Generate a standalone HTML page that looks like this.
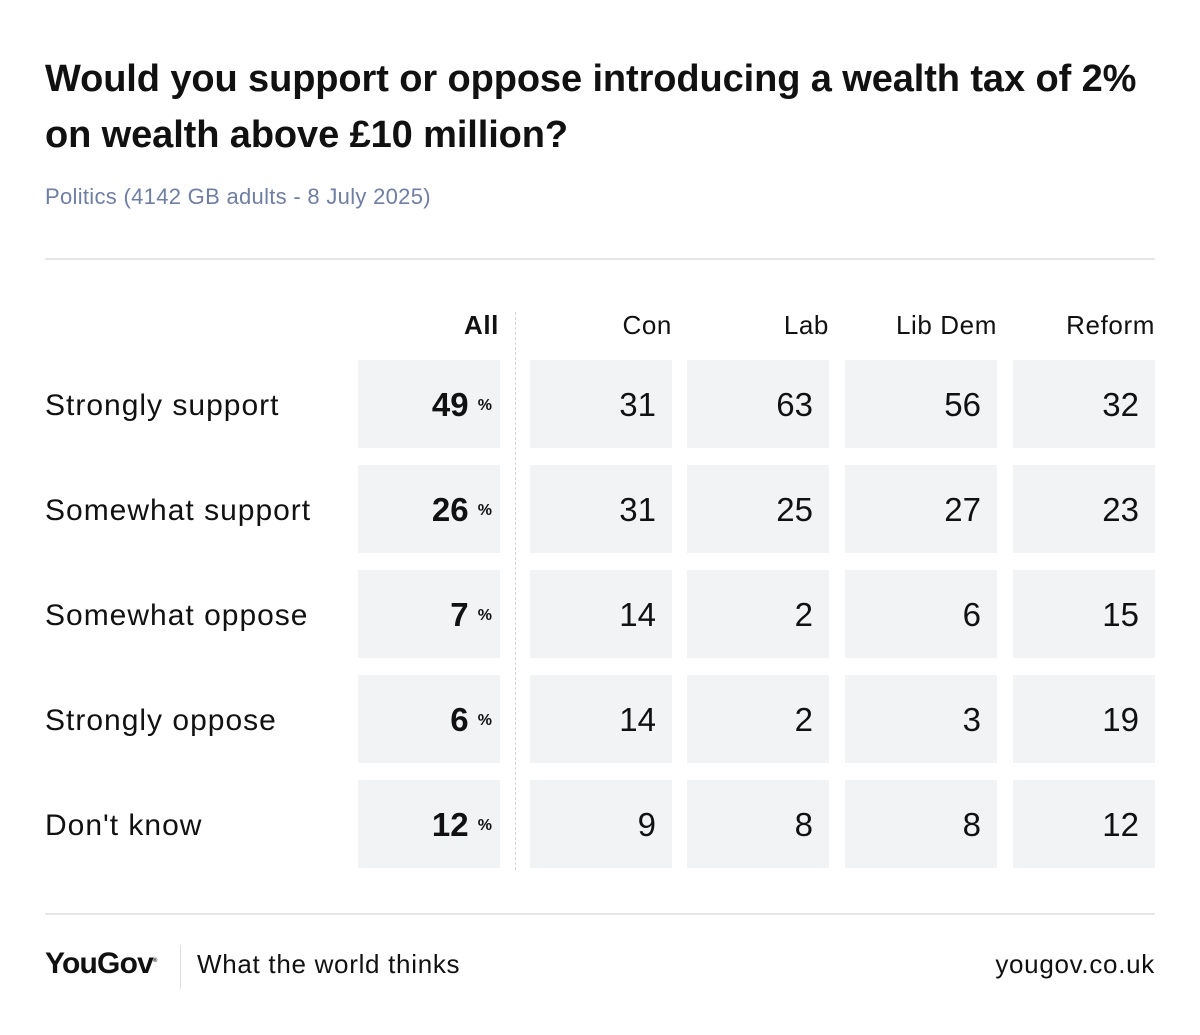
<!DOCTYPE html>
<html><head><meta charset="utf-8"><style>
body{margin:0;width:1200px;height:1035px;background:#fff;font-family:"Liberation Sans",sans-serif;position:relative;overflow:hidden;color:#111}
.a{position:absolute;white-space:nowrap}
.cell{position:absolute;background:#f2f3f5}
</style></head><body>
<div class="a" style="left:45px;top:51px;font-size:38px;font-weight:bold;line-height:56px;letter-spacing:-0.1px">Would you support or oppose introducing a wealth tax of 2%<br>on wealth above £10 million?</div>
<div class="a" style="left:45px;top:184px;font-size:22px;letter-spacing:0.3px;color:#6f7ea3">Politics (4142 GB adults - 8 July 2025)</div>
<div class="a" style="left:45px;top:258px;width:1110px;height:2px;background:#e6e6e6"></div>
<div class="a" style="left:515px;top:312px;height:558px;border-left:1.5px dashed #d6d6d6"></div>
<div id="table"></div>
<div class="a" style="left:45px;top:913px;width:1110px;height:2px;background:#e6e6e6"></div>
<div class="a" style="left:45px;top:947px;font-size:30px;font-weight:bold;letter-spacing:-0.8px">YouGov<sup style="font-size:6px">®</sup></div>
<div class="a" style="left:180px;top:945px;width:1px;height:44px;background:#ddd"></div>
<div class="a" style="left:197px;top:949px;font-size:26px;letter-spacing:0.7px">What the world thinks</div>
<div class="a" style="right:45px;top:949px;font-size:26px;letter-spacing:0.7px">yougov.co.uk</div>
<script>
const categories=["Strongly support","Somewhat support","Somewhat oppose","Strongly oppose","Don't know"];
const groups=["All","Con","Lab","Lib Dem","Reform"];
const allValues=[49,26,7,6,12];
const conValues=[31,31,14,14,9];
const labValues=[63,25,2,2,8];
const libDemValues=[56,27,6,3,8];
const reformValues=[32,23,15,19,12];
const series=[allValues,conValues,labValues,libDemValues,reformValues];
const colX=[358,530,687,845,1013], colW=[142,142,142,152,142];
const rowY=i=>360+i*105;
const t=document.getElementById('table');
groups.forEach((g,j)=>{
  const h=document.createElement('div');h.className='a';
  
  
  h.style.cssText=`left:${colX[j]}px;width:${colW[j]}px;top:310px;font-size:26px;letter-spacing:0.6px;text-align:right;${j==0?'font-weight:bold':''}`;
  if(j==0)h.style.width=(colW[j]-1)+'px';
  h.textContent=g;t.appendChild(h);
});
categories.forEach((c,i)=>{
  const y=rowY(i);
  const l=document.createElement('div');l.className='a';
  
  
  l.style.cssText=`left:45px;top:${y+29}px;font-size:30px;letter-spacing:1px`;
  l.textContent=c;t.appendChild(l);
  series.forEach((s,j)=>{
    const d=document.createElement('div');d.className='cell';
    
    
    d.style.cssText=`left:${colX[j]}px;top:${y}px;width:${colW[j]}px;height:88px`;
    const v=document.createElement('div');v.className='a';
    v.style.cssText=`right:${j==0?8:16}px;top:26px;font-size:33px;${j==0?'font-weight:bold':''}`;
    v.innerHTML=j==0?`${s[i]} <span style="font-size:16px;vertical-align:6px">%</span>`:s[i];
    d.appendChild(v);t.appendChild(d);
  });
});
</script>
</body></html>
